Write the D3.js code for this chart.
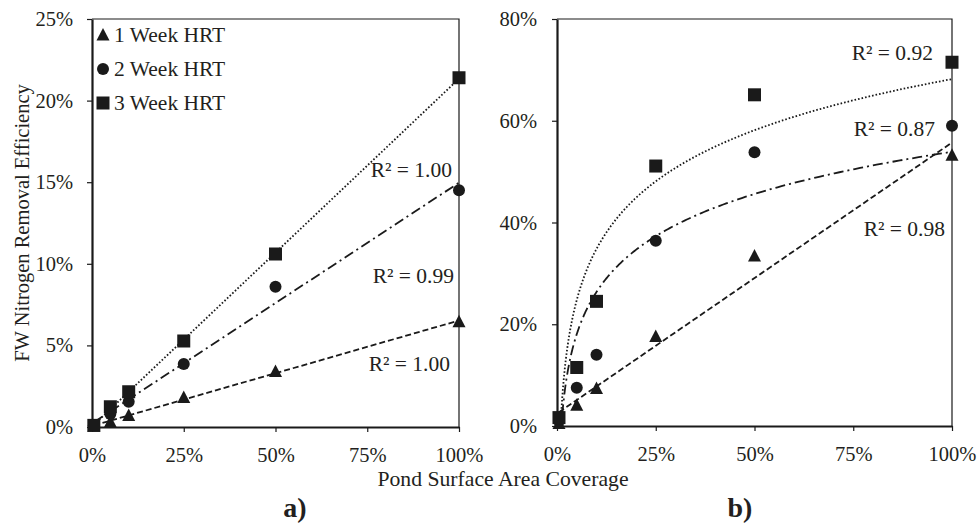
<!DOCTYPE html>
<html lang="en">
<head>
    <meta charset="UTF-8">
    <title>FW Nitrogen Removal Efficiency</title>
    <script src="https://d3js.org/d3.v7.min.js"></script>
    <style>
        body { margin: 0; background: #fff; }
        svg text { font-family: "Liberation Serif", "Times New Roman", serif; fill: #231f20; }
    </style>
</head>
<body>
    <div id="graph"></div>
    <script>
        // data (percent)
        const coverage = [0.5, 5, 10, 25, 50, 100]
        const seriesNames = ["1 Week HRT", "2 Week HRT", "3 Week HRT"]

        const leftWeek1 = [0.05, 0.3, 0.7, 1.8, 3.4, 6.45]
        const leftWeek2 = [0.1, 0.8, 1.55, 3.86, 8.6, 14.5]
        const leftWeek3 = [0.1, 1.24, 2.16, 5.27, 10.6, 21.4]
        const leftR2 = ["1.00", "0.99", "1.00"]

        const rightWeek1 = [0.5, 4.1, 7.35, 17.6, 33.4, 53.2]
        const rightWeek2 = [1.0, 7.5, 14.0, 36.4, 53.8, 59.0]
        const rightWeek3 = [1.65, 11.5, 24.5, 51.1, 65.1, 71.5]
        const rightR2 = ["0.98", "0.87", "0.92"]

        const xTicks = [0, 25, 50, 75, 100]
        const leftYTicks = [0, 5, 10, 15, 20, 25]
        const rightYTicks = [0, 20, 40, 60, 80]

        const ink = "#1a1a1a"
        const width = 979, height = 527

        const svg = d3.select("#graph").append("svg")
            .attr("width", width)
            .attr("height", height)

        // least squares fits for the trendlines
        function linearFit(xs, ys) {
            const mx = d3.mean(xs), my = d3.mean(ys)
            let sxy = 0, sxx = 0
            xs.forEach((x, i) => { sxy += (x - mx) * (ys[i] - my); sxx += (x - mx) * (x - mx) })
            const a = sxy / sxx, b = my - a * mx
            return x => a * x + b
        }
        function logFit(xs, ys) {
            const lx = xs.map(x => Math.log(x))
            const f = linearFit(lx, ys)
            return x => f(Math.log(x))
        }

        function marker(g, shape, cx, cy) {
            if (shape === "triangle") {
                g.append("path")
                    .attr("d", `M${cx},${cy - 7}L${cx + 6.5},${cy + 5.5}L${cx - 6.5},${cy + 5.5}Z`)
                    .attr("fill", ink)
            } else if (shape === "circle") {
                g.append("circle").attr("cx", cx).attr("cy", cy).attr("r", 6).attr("fill", ink)
            } else {
                g.append("rect").attr("x", cx - 6.5).attr("y", cy - 6.5)
                    .attr("width", 13).attr("height", 13).attr("fill", ink)
            }
        }

        const shapes = ["triangle", "circle", "square"]
        const dashes = ["6,3", "10,4,2,4", "1.6,2"]

        function drawPanel(p) {
            const x = d3.scaleLinear().domain([0, 100]).range([p.left, p.right])
            const y = d3.scaleLinear().domain([0, p.yMax]).range([p.bottom, p.top])
            const g = svg.append("g")

            g.append("clipPath").attr("id", p.id)
                .append("rect").attr("x", p.left).attr("y", p.top)
                .attr("width", p.right - p.left).attr("height", p.bottom - p.top)

            // thin top and right border
            g.append("path")
                .attr("d", `M${p.left},${p.top}H${p.right}V${p.bottom}`)
                .attr("fill", "none").attr("stroke", ink).attr("stroke-width", 1.2)

            // y axis
            const ya = g.append("g").attr("transform", `translate(${p.left},0)`)
                .call(d3.axisLeft(y).tickValues(p.yTicks).tickSize(5).tickSizeOuter(0).tickFormat(d => d + "%"))
            ya.select(".domain").attr("stroke", ink).attr("stroke-width", 2.2)
            ya.selectAll(".tick line").attr("stroke", ink).attr("stroke-width", 1.2)
            ya.selectAll(".tick text").attr("x", -p.yLabelGap).attr("font-size", 20.5)
                .attr("font-family", "Liberation Serif").attr("fill", "#231f20")

            // x axis
            const xa = g.append("g").attr("transform", `translate(0,${p.bottom})`)
                .call(d3.axisBottom(x).tickValues(xTicks).tickSize(5).tickSizeOuter(0).tickFormat(d => d + "%"))
            xa.select(".domain").attr("stroke", ink).attr("stroke-width", 2.2)
            xa.selectAll(".tick line").attr("stroke", ink).attr("stroke-width", 1.2)
            xa.selectAll(".tick text").attr("y", 20).attr("font-size", 20.5)
                .attr("font-family", "Liberation Serif").attr("fill", "#231f20")

            // trendlines
            const lines = g.append("g").attr("clip-path", `url(#${p.id})`)
            p.series.forEach((ys, i) => {
                const f = p.fits[i] === "log" ? logFit(coverage, ys) : linearFit(coverage, ys)
                const lo = d3.min(coverage), hi = d3.max(coverage)
                const pts = p.fits[i] === "log"
                    ? d3.range(0, 301).map(k => lo * Math.pow(hi / lo, k / 300))
                    : [lo, hi]
                lines.append("path")
                    .attr("d", d3.line().x(d => x(d)).y(d => y(f(d)))(pts))
                    .attr("fill", "none")
                    .attr("stroke", ink)
                    .attr("stroke-width", 1.8)
                    .attr("stroke-dasharray", dashes[i])
            })

            // points
            const dots = g.append("g")
            p.series.forEach((ys, i) => {
                ys.forEach((v, j) => marker(dots, shapes[i], x(coverage[j]), y(v)))
            })

            // R² labels
            p.r2.forEach((r, i) => {
                g.append("text")
                    .attr("x", p.r2Pos[i][0]).attr("y", p.r2Pos[i][1])
                    .attr("text-anchor", "end")
                    .attr("font-size", 21.5)
                    .text("R\u00B2 = " + r)
            })

            g.append("text")
                .attr("x", p.tagX).attr("y", 517)
                .attr("text-anchor", "middle")
                .attr("font-size", 28).attr("font-weight", "bold")
                .text(p.tag)
        }

        drawPanel({
            id: "clipA", left: 92, right: 459, top: 19, bottom: 427,
            yMax: 25, yTicks: leftYTicks, yLabelGap: 19,
            series: [leftWeek1, leftWeek2, leftWeek3],
            fits: ["linear", "linear", "linear"],
            r2: leftR2, r2Pos: [[450, 371], [454, 283], [452, 177]],
            tag: "a)", tagX: 295
        })

        drawPanel({
            id: "clipB", left: 557, right: 952, top: 19, bottom: 426,
            yMax: 80, yTicks: rightYTicks, yLabelGap: 20,
            series: [rightWeek1, rightWeek2, rightWeek3],
            fits: ["linear", "log", "log"],
            r2: rightR2, r2Pos: [[945, 236], [935, 136], [933, 60]],
            tag: "b)", tagX: 740
        })

        // legend
        const legend = svg.append("g")
        seriesNames.forEach((name, i) => {
            const cy = 35 + i * 34
            marker(legend, shapes[i], 103, cy)
            legend.append("text")
                .attr("x", 114).attr("y", cy + 7)
                .attr("font-size", 21.5)
                .text(name)
        })

        // axis titles
        svg.append("text")
            .attr("x", 503).attr("y", 486)
            .attr("text-anchor", "middle")
            .attr("font-size", 21.7)
            .text("Pond Surface Area Coverage")

        svg.append("text")
            .attr("transform", "translate(29,223) rotate(-90)")
            .attr("text-anchor", "middle")
            .attr("font-size", 20.5)
            .text("FW Nitrogen Removal Efficiency")
    </script>
</body>
</html>
